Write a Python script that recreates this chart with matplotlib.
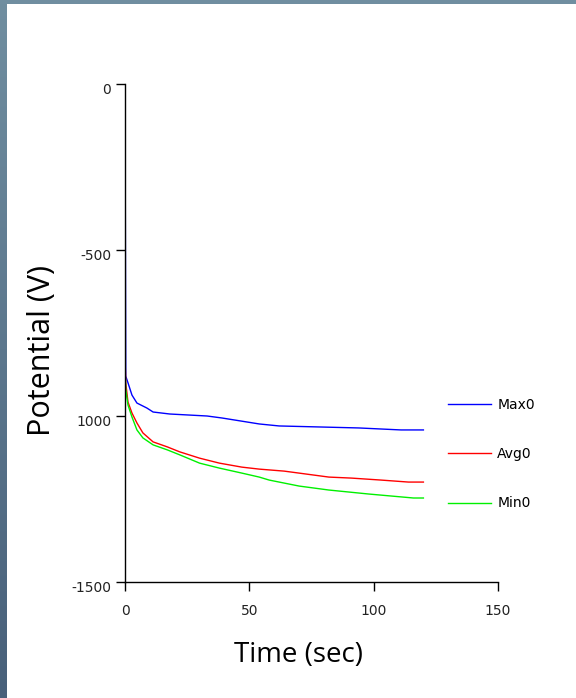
import matplotlib
matplotlib.use("Agg")
import matplotlib.pyplot as plt
import matplotlib.transforms as mtransforms
import numpy as np


# values
t_max = [0, 0.3, 1.2, 2.8, 4.8, 8.8, 11.3, 18, 33, 39, 49, 54, 62, 94, 111, 120]
v_max = [0, -880, -900, -937, -961, -976, -988, -994, -1000, -1006, -1018,
         -1024, -1030, -1036, -1042, -1042]

t_avg = [0, 0.3, 1.2, 2.8, 4.8, 7.2, 11.3, 17, 22, 30, 38, 47, 54, 64, 70,
         76, 82, 91, 103, 114, 120]
v_avg = [-820, -900, -958, -991, -1021, -1051, -1078, -1093, -1108, -1127,
         -1142, -1154, -1160, -1166, -1172, -1178, -1184, -1187, -1193,
         -1199, -1199]

t_min = [0, 0.3, 1.2, 2.8, 4.8, 7.2, 11.3, 17, 22, 30, 38, 47, 54, 58, 64,
         70, 76, 82, 90, 98, 107, 116, 120]
v_min = [-850, -920, -967, -1003, -1042, -1066, -1087, -1102, -1117, -1142,
         -1157, -1172, -1184, -1193, -1202, -1211, -1217, -1223, -1229,
         -1235, -1241, -1247, -1247]

x_ticks = [0, 50, 100, 150]
y_ticks = [0, -500, -1000, -1500]
y_tick_labels = ["0", "-500", "1000", "-1500"]

W, H = 576, 698


def main():
    fig = plt.figure(figsize=(W / 100, H / 100), dpi=100)
    fig.patch.set_facecolor("white")

    # slide border: gradient strip on the left, flat strip on top
    side = fig.add_axes([0, 0, 7 / W, 1])
    grad = np.linspace(0, 1, 256).reshape(-1, 1)
    top_c = np.array([112, 142, 160]) / 255
    bot_c = np.array([72, 96, 122]) / 255
    img = top_c[None, None, :] * (1 - grad[:, :, None]) + bot_c[None, None, :] * grad[:, :, None]
    side.imshow(img, aspect="auto", extent=[0, 1, 0, 1])
    side.axis("off")
    top = fig.add_axes([0, 1 - 4 / H, 1, 4 / H])
    top.set_facecolor(top_c)
    top.set_xticks([])
    top.set_yticks([])
    for s in top.spines.values():
        s.set_visible(False)

    x0, x1 = 125, 498
    y0, y1 = 84, 582
    ax = fig.add_axes([x0 / W, 1 - y1 / H, (x1 - x0) / W, (y1 - y0) / H])

    ax.plot(t_max, v_max, color="#0000ff", lw=1.0, label="Max0")
    ax.plot(t_avg, v_avg, color="#ff0000", lw=1.0, label="Avg0")
    ax.plot(t_min, v_min, color="#00f000", lw=1.0, label="Min0")

    ax.set_xlim(0, 150)
    ax.set_ylim(-1500, 0)
    ax.set_xticks(x_ticks)
    ax.set_yticks(y_ticks)
    ax.set_yticklabels(y_tick_labels)
    ax.tick_params(direction="out", length=6.5, width=1, labelsize=10,
                   colors="black", labelcolor="#222222")
    ax.tick_params(axis="x", pad=9)
    ax.tick_params(axis="y", pad=3.5)
    # y tick labels sit a few pixels below their ticks in the original
    shift = mtransforms.ScaledTranslation(0, -5 / 100, fig.dpi_scale_trans)
    for lab in ax.get_yticklabels():
        lab.set_transform(lab.get_transform() + shift)
    ax.spines["top"].set_visible(False)
    ax.spines["right"].set_visible(False)
    ax.spines["left"].set_linewidth(1.0)
    ax.spines["bottom"].set_linewidth(1.0)

    ax.set_xlabel("Time (sec)", fontsize=20, family="Open Sans", va="center", ha="center")
    ax.xaxis.set_label_coords(0.464, -0.1466)
    ax.set_ylabel("Potential (V)", fontsize=22, family="Open Sans", va="center", ha="center")
    ax.yaxis.set_label_coords(-0.2225, 0.464)

    ax.legend(loc="center left", bbox_to_anchor=(0.866, 0.257), frameon=False,
              prop={"family": "DejaVu Sans", "size": 10},
              handlelength=3.1, handletextpad=0.45, labelspacing=2.55,
              borderpad=0, borderaxespad=0)

    fig.savefig("out.png", dpi=100)


if __name__ == "__main__":
    main()
